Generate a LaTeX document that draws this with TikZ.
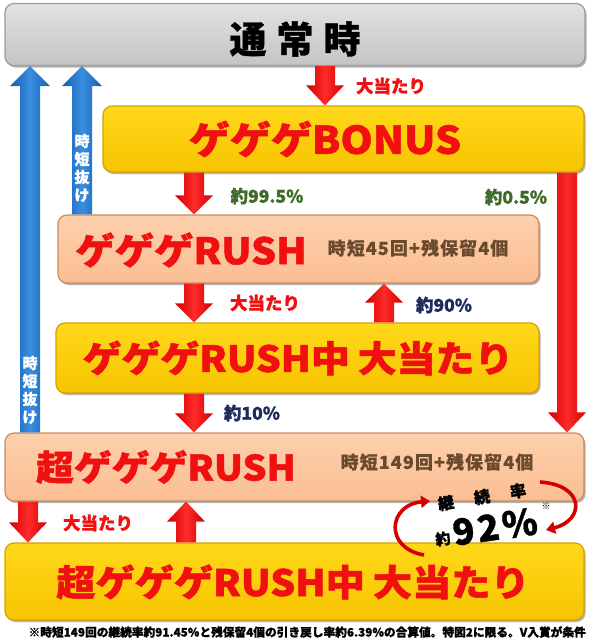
\documentclass[tikz,border=0pt]{standalone}
\usepackage{fontspec}
\usetikzlibrary{calc,arrows.meta,shadows}
\newfontfamily\jp{Noto Sans CJK JP}[BoldFeatures={FakeBold=1}]
\newfontfamily\jpwide{Noto Sans CJK JP}[FakeStretch=1.08,BoldFeatures={FakeBold=1.4}]
\newfontfamily\jpsp{Noto Sans CJK JP}[LetterSpace=6,BoldFeatures={FakeBold=0.4}]
\definecolor{cred}{HTML}{F01010}
\definecolor{rdark}{HTML}{D40000}
\definecolor{rbright}{HTML}{FF2A2A}
\definecolor{bdark}{HTML}{135FB0}
\definecolor{bbright}{HTML}{3A8EE0}
\definecolor{cgrayt}{HTML}{E2E2E2}
\definecolor{cgrayb}{HTML}{C4C4C4}
\definecolor{cgrayd}{HTML}{9C9C9C}
\definecolor{cyelt}{HTML}{FFD81A}
\definecolor{cyelb}{HTML}{F7C400}
\definecolor{cyeld}{HTML}{D8A200}
\definecolor{cpeacht}{HTML}{FDD0AC}
\definecolor{cpeachb}{HTML}{FBBE93}
\definecolor{cpeachd}{HTML}{C98B62}
\definecolor{cbrown}{HTML}{6A4A2C}
\definecolor{cgreen}{HTML}{3E6B2C}
\definecolor{cnavy}{HTML}{1E2B60}
% block arrow: style, tail, tip, shaft half width, head half width, signed head length (canvas)
\newcommand\blockarrow[6]{%
  \shade[#1] let \p1=(#2), \p2=(#3) in
   ({\x1-#4},\y1) -- ({\x1-#4},{\y2+#6}) -- ({\x1-#5},{\y2+#6}) -- (\x1,\y2)
   -- ({\x1+#5},{\y2+#6}) -- ({\x1+#4},{\y2+#6}) -- ({\x1+#4},\y1) -- cycle;}
\newcommand\redtitle[4]{%
  \node[titletx, font=\jpwide\bfseries\fontsize{#3}{#3}\selectfont] (#1) at (#2) {#4};}
\begin{document}
\begin{tikzpicture}[x=1pt,y=-1pt,
  box/.style={rounded corners=9pt, line width=1.2pt, inner sep=0pt,
    drop shadow={shadow xshift=1.5pt,shadow yshift=-2pt,opacity=.3,fill=black}},
  graybox/.style={box, draw=cgrayd, top color=cgrayt, bottom color=cgrayb},
  yellowbox/.style={box, draw=cyeld, top color=cyelt, bottom color=cyelb},
  peachbox/.style={box, draw=cpeachd, top color=cpeacht, bottom color=cpeachb},
  titletx/.style={text=cred, inner sep=0pt},
  lbl/.style={font=\jp\bfseries\fontsize{17.5}{17.5}\selectfont, inner sep=0pt},
  lred/.style={lbl, text=cred},
  lgreen/.style={lbl, text=cgreen},
  lnavy/.style={lbl, text=cnavy},
  subt/.style={font=\jpsp\bfseries\fontsize{18}{18}\selectfont, text=cbrown, inner sep=0pt},
  vtext/.style={font=\jp\bfseries\fontsize{15}{18}\selectfont, text=white, align=center, inner sep=0pt},
  redarrow/.style={left color=rdark, right color=rdark, middle color=rbright},
  bluearrow/.style={left color=bdark, right color=bdark, middle color=bbright},
  cyc/.style={line width=3.6pt, draw=rdark, -{Triangle[width=12pt,length=9pt]}},
  kz/.style={font=\jp\bfseries\fontsize{16}{16}\selectfont, rotate=9, inner sep=0pt,
    text height=13pt, text depth=1pt}
]
\useasboundingbox (0,0) rectangle (589,640);
\fill[white] (0,0) rectangle (589,640);

% boxes
\node[graybox, minimum width=580, minimum height=62] (top) at (295,34.5) {};
\node[yellowbox, minimum width=481, minimum height=66] (bonus) at (343.5,139) {};
\node[peachbox, minimum width=481, minimum height=68] (rush) at (298.5,249) {};
\node[yellowbox, minimum width=483, minimum height=70] (rushhit) at (297.5,358) {};
\node[peachbox, minimum width=579, minimum height=68] (super) at (294.5,467) {};
\node[yellowbox, minimum width=579, minimum height=77] (superhit) at (294.5,581.5) {};

% box texts
\node[font=\jp\bfseries\fontsize{37}{37}\selectfont, text=black, inner sep=0pt] (toptext) at (295,39)
  {通\hspace{10pt}常\hspace{10pt}時};
\redtitle{bonustx}{325,139}{38}{ゲゲゲBONUS}
\redtitle{rushtx}{191,250}{36.5}{ゲゲゲRUSH}
\node[subt] (rushsub) at (418,248) {時短45回+残保留4個};
\redtitle{rushhittx}{298,358}{36}{ゲゲゲRUSH中\hspace{8pt}大当たり}
\redtitle{supertx}{166,467}{35}{超ゲゲゲRUSH}
\node[subt] (supersub) at (437,462) {時短149回+残保留4個};
\redtitle{superhittx}{293,582}{36.3}{超ゲゲゲRUSH中\hspace{8pt}大当たり}

% column coordinates
\coordinate (cA) at (325,0);
\coordinate (cB) at (194,0);
\coordinate (cR) at (567,0);
\coordinate (cU) at (384,0);
\coordinate (cL) at (28,0);
\coordinate (cG) at (186,0);
\coordinate (cb1) at (30,0);
\coordinate (cb2) at (82,0);

% blue return arrows
\blockarrow{bluearrow}{super.north -| cb1}{top.south -| cb1}{10pt}{20pt}{-20pt}
\blockarrow{bluearrow}{rush.north -| cb2}{top.south -| cb2}{10pt}{20pt}{-20pt}
\node[vtext] (v1) at (82,168) {時\\短\\抜\\け};
\node[vtext] (v2) at (30,390) {時\\短\\抜\\け};

% red arrows
\blockarrow{redarrow}{top.south -| cA}{bonus.north -| cA}{10pt}{19pt}{20pt}
\blockarrow{redarrow}{bonus.south -| cB}{rush.north -| cB}{10pt}{19pt}{19pt}
\blockarrow{redarrow}{bonus.south -| cR}{super.north -| cR}{10pt}{19pt}{20pt}
\blockarrow{redarrow}{rush.south -| cB}{rushhit.north -| cB}{10pt}{19pt}{19pt}
\blockarrow{redarrow}{rushhit.north -| cU}{rush.south -| cU}{10pt}{19pt}{-19pt}
\blockarrow{redarrow}{rushhit.south -| cB}{super.north -| cB}{10pt}{19pt}{19pt}
\blockarrow{redarrow}{super.south -| cL}{superhit.north -| cL}{10pt}{19pt}{20pt}
\blockarrow{redarrow}{superhit.north -| cG}{super.south -| cG}{10pt}{19pt}{-20pt}

% labels
\node[lred] (l1) at (391,86) {大当たり};
\node[lgreen] (l2) at (267,196) {約99.5\%};
\node[lgreen] (l3) at (516,197) {約0.5\%};
\node[lred] (l4) at (265,303) {大当たり};
\node[lnavy] (l5) at (444,305) {約90\%};
\node[lnavy] (l6) at (252,413) {約10\%};
\node[lred] (l7) at (98,523) {大当たり};

% cycle
\coordinate (c1a) at (424,555);
\coordinate (c1b) at (430,501);
\coordinate (c2a) at (540,482);
\coordinate (c2b) at (546,530);
\draw[cyc] (c1a) .. controls (384,548) and (388,505) .. (c1b);
\draw[cyc] (c2a) .. controls (585,485) and (585,520) .. (c2b);
\node[kz] (kz1) at (446,503) {継};
\node[kz] (kz2) at (482,497) {続};
\node[kz] (kz3) at (518,491) {率};
\node[font=\jp\bfseries\fontsize{15}{15}\selectfont, rotate=8, inner sep=0pt,
  text height=12pt, text depth=1pt] (yaku) at (443,539) {約};
\node[font=\jp\bfseries\fontsize{36}{36}\selectfont, rotate=8, inner sep=0pt,
  text height=26pt, text depth=0pt] (rate) at (495,527) {9\hspace{3pt}2\hspace{3pt}\%};
\node[font=\jp\fontsize{9}{9}\selectfont, inner sep=0pt] (kome) at (546,506) {※};

% footnote
\node[font=\jp\bfseries\fontsize{11.7}{11.7}\selectfont, inner sep=0pt, anchor=east] (note) at (586,632)
  {※時短149回の継続率約91.45\%と残保留4個の引き戻し率約6.39\%の合算値。特図2に限る。V入賞が条件};
\end{tikzpicture}
\end{document}
